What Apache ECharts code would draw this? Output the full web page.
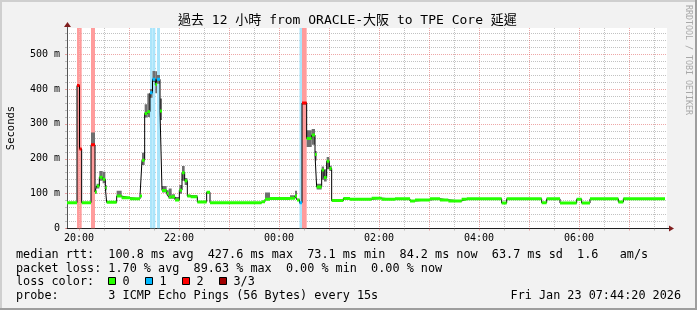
<!DOCTYPE html>
<html><head><meta charset="utf-8">
<script src="https://cdn.jsdelivr.net/npm/echarts@6/dist/echarts.min.js"></script>
<style>html,body{margin:0;padding:0;background:#f2f2f2}#c{width:697px;height:310px}</style>
</head><body><div id="c"></div>
<script>
// ---- data (time = minutes relative to 20:00, values in ms) ----
const segStart = [-14.4,-2.4,0.6,3.2,14.4,19.2,21.2,24.4,28.4,31.6,33.2,45.2,51.2,61.2,73.2,75.6,78.8,82,85.2,88.2,91.6,93.6,97.2,99.6,105.2,107.6,111.2,115.2,120.4,123.6,126.8,130,134,142,153.2,157.2,219.2,223.2,229.2,253.2,259.2,261.6,264.6,267.6,273.2,279.2,283.2,285.2,291.2,294,297.2,300.4,303.2,317.2,325.2,351.2,363.2,379.2,397.2,403.2,421.2,433.2,443.2,459.2,465.2,507.2,513.2,555.2,561.2,577.2,597.2,603.2,613.2,647.2,653.2];
const lastSampleEnd = 703.2;
const medianMs = [74,410,228,74,240,105,122,147,141,117,75,93,88,85,93,196,330,335,389,428,413,428,337,109,101,90,91,82,110,160,137,93,91,76,104,74,77,84,86,87,93,82,74,360,258,268,212,119,168,146,193,172,80,86,84,87,84,85,79,82,85,82,79,84,85,73,85,74,85,73,84,73,85,76,85];
const smokeLo = [73,406,225,73,237,100,115,137,130,110,74,90,86,84,90,182,318,320,375,420,388,415,311,103,95,85,85,80,100,137,125,90,89,75,100,73,76,82,85,85,88,80,72,355,234,240,195,112,140,135,170,165,79,85,83,86,83,84,78,81,84,81,78,83,84,72,84,73,84,72,83,72,84,75,84];
const smokeHi = [75,412,230,75,275,110,128,165,163,125,77,108,90,86,95,217,356,387,400,452,451,440,373,122,110,115,98,90,125,179,145,97,96,78,106,75,78,103,88,95,108,85,76,362,282,285,222,128,178,170,205,180,81,87,85,88,85,86,80,84,86,83,80,85,86,74,86,75,86,74,85,74,86,77,86];
const lossCount = [0,2,2,0,2,0,0,0,0,0,0,0,0,0,0,0,0,0,1,1,0,1,0,0,0,0,0,0,0,0,0,0,0,0,0,0,0,0,0,0,0,0,1,2,0,0,0,0,0,0,0,0,0,0,0,0,0,0,0,0,0,0,0,0,0,0,0,0,0,0,0,0,0,0,0];
const xLabelMinutes = [0,120,240,360,480,600];
const xTickLabels = ['20:00','22:00','00:00','02:00','04:00','06:00'];
const yTickValues = [0,100,200,300,400,500];
const yTickLabels = ['0','100 m','200 m','300 m','400 m','500 m'];
const lossLegendLabels = ['0','1','2','3/3'];
const titleText = '過去 12 小時 from ORACLE-大阪 to TPE Core 延遲';
const statLines = [
  'median rtt:  100.8 ms avg  427.6 ms max  73.1 ms min  84.2 ms now  63.7 ms sd  1.6   am/s',
  'packet loss: 1.70 % avg  89.63 % max  0.00 % min  0.00 % now',
  'loss color:',
  'probe:       3 ICMP Echo Pings (56 Bytes) every 15s'
];
const dateText = 'Fri Jan 23 07:44:20 2026';

// ---- styles ----
const X_MIN = -14.4, X_MAX = 705.6, Y_MAX = 575;
const lossColors = ['#26ff00','#00b8ff','#ff0000','#a00000'];
const bandColors = [null,'#abe5fb','#ff9c9c','#ff9c9c'];
const smokeColor = '#6f6f6f';
const minorGrid = 'rgba(143,143,143,0.55)';
const majorGrid = 'rgba(222,79,79,0.5)';
const mono = '"DejaVu Sans Mono", "Noto Sans CJK TC", monospace';

const hourTicks = [], halfTicks = [], yMinor = [];
for (let m = 0; m <= 660; m += 60) hourTicks.push(m);
for (let m = 30; m <= 690; m += 60) halfTicks.push(m);
for (let v = 20; v < Y_MAX; v += 20) if (v % 100) yMinor.push(v);

const items = segStart.map((t, i) => [t, i < segStart.length - 1 ? segStart[i + 1] : lastSampleEnd, medianMs[i], smokeLo[i], smokeHi[i], lossCount[i]]);
const stepLine = segStart.map((t, i) => [t, medianMs[i]]).concat([[lastSampleEnd, medianMs[medianMs.length - 1]]]);

function renderBand(params, api) {
  const loss = api.value(5);
  if (!loss) return null;
  const a = api.coord([api.value(0), Y_MAX]);
  const b = api.coord([api.value(1), 0]);
  return {type: 'rect', shape: {x: a[0], y: a[1], width: b[0] - a[0], height: b[1] - a[1]}, style: {fill: bandColors[loss]}};
}
function renderSmoke(params, api) {
  const a = api.coord([api.value(0), api.value(4)]);
  const b = api.coord([api.value(1), api.value(3)]);
  return {type: 'rect', shape: {x: a[0], y: a[1], width: b[0] - a[0], height: b[1] - a[1]}, style: {fill: smokeColor}};
}
function renderMedian(params, api) {
  const a = api.coord([api.value(0), api.value(2)]);
  const b = api.coord([api.value(1), api.value(2)]);
  return {type: 'line', shape: {x1: a[0], y1: a[1], x2: b[0], y2: b[1]}, style: {stroke: lossColors[api.value(5)], lineWidth: 3, lineCap: 'butt'}};
}

const graphics = [
  {type: 'rect', shape: {x: 0, y: 0, width: 697, height: 2}, style: {fill: '#cfcfcf'}},
  {type: 'rect', shape: {x: 0, y: 0, width: 2, height: 310}, style: {fill: '#cfcfcf'}},
  {type: 'rect', shape: {x: 0, y: 308, width: 697, height: 2}, style: {fill: '#9e9e9e'}},
  {type: 'rect', shape: {x: 695, y: 0, width: 2, height: 310}, style: {fill: '#9e9e9e'}},
  {type: 'text', x: 178, y: 21, style: {text: titleText, font: '13px ' + mono, fill: '#000', textVerticalAlign: 'middle'}},
  {type: 'text', x: 11, y: 128, rotation: Math.PI / 2, style: {text: 'Seconds', font: '10.5px ' + mono, fill: '#000', textAlign: 'center', textVerticalAlign: 'middle'}},
  {type: 'text', x: 688.5, y: 5, rotation: -Math.PI / 2, style: {text: 'RRDTOOL / TOBI OETIKER', font: '8.3px ' + mono, fill: '#a8a8a8', textAlign: 'left', textVerticalAlign: 'middle'}},
  {type: 'line', shape: {x1: 67.5, y1: 28, x2: 67.5, y2: 24}, style: {stroke: '#555', lineWidth: 1}},
  {type: 'polygon', shape: {points: [[64, 27], [71, 27], [67.5, 22]]}, style: {fill: '#801f1f'}},
  {type: 'line', shape: {x1: 667, y1: 228.5, x2: 670, y2: 228.5}, style: {stroke: '#1f1f1f', lineWidth: 1}},
  {type: 'polygon', shape: {points: [[669, 225.5], [669, 231.5], [674, 228.5]]}, style: {fill: '#801f1f'}}
];
const lineY = [254.5, 268.5, 282, 296];
statLines.forEach((s, i) => graphics.push({type: 'text', x: 16, y: lineY[i], style: {text: s, font: '11.8px ' + mono, fill: '#000', textVerticalAlign: 'middle'}}));
graphics.push({type: 'text', x: 681, y: lineY[3], style: {text: dateText, font: '11.8px ' + mono, fill: '#000', textAlign: 'right', textVerticalAlign: 'middle'}});
lossLegendLabels.forEach((lab, i) => {
  graphics.push({type: 'rect', shape: {x: 108.5 + 37 * i, y: 277.5, width: 7, height: 7}, style: {fill: lossColors[i], stroke: '#000', lineWidth: 1}});
  graphics.push({type: 'text', x: 122.5 + 37 * i, y: lineY[2], style: {text: lab, font: '11.8px ' + mono, fill: '#000', textVerticalAlign: 'middle'}});
});

const chart = echarts.init(document.getElementById('c'), null, {renderer: 'canvas', width: 697, height: 310});
chart.setOption({
  animation: false,
  backgroundColor: '#f2f2f2',
  grid: {left: 67, top: 28, width: 600, height: 200.5, backgroundColor: '#fff', show: true, borderWidth: 0},
  xAxis: [
    {type: 'value', min: X_MIN, max: X_MAX, position: 'bottom',
     axisLine: {onZero: false, lineStyle: {color: '#1f1f1f', width: 1}},
     axisTick: {show: true, customValues: hourTicks, length: 2, lineStyle: {color: majorGrid}},
     axisLabel: {customValues: xLabelMinutes, formatter: v => xTickLabels[xLabelMinutes.indexOf(v)], fontFamily: mono, fontSize: 10, color: '#000', margin: 5},
     splitLine: {show: true, lineStyle: {color: majorGrid, type: [1, 1], width: 1}}},
    {type: 'value', min: X_MIN, max: X_MAX, position: 'bottom',
     axisLine: {show: false, onZero: false},
     axisTick: {show: true, customValues: halfTicks, length: 2, lineStyle: {color: minorGrid}},
     axisLabel: {show: false},
     splitLine: {show: true, lineStyle: {color: minorGrid, type: [1, 1], width: 1}}}
  ],
  yAxis: [
    {type: 'value', min: 0, max: Y_MAX, position: 'left',
     axisLine: {show: true, onZero: false, lineStyle: {color: '#555', width: 1}},
     axisTick: {show: true, customValues: yTickValues, length: 2, lineStyle: {color: majorGrid}},
     axisLabel: {customValues: yTickValues, formatter: v => yTickLabels[yTickValues.indexOf(v)], fontFamily: mono, fontSize: 10, color: '#000', margin: 7},
     splitLine: {show: true, lineStyle: {color: majorGrid, type: [1, 1], width: 1}}},
    {type: 'value', min: 0, max: Y_MAX, position: 'left',
     axisLine: {show: false, onZero: false},
     axisTick: {show: true, customValues: yMinor, length: 2, lineStyle: {color: minorGrid}},
     axisLabel: {show: false},
     splitLine: {show: true, lineStyle: {color: minorGrid, type: [1, 1], width: 1}}}
  ],
  series: [
    {type: 'custom', renderItem: renderBand, data: items, encode: {x: [0, 1], y: 2}, clip: true, z: 1, silent: true},
    {type: 'custom', renderItem: renderSmoke, data: items, encode: {x: [0, 1], y: [3, 4]}, clip: true, z: 2, silent: true},
    {type: 'line', data: stepLine, step: 'end', symbol: 'none', lineStyle: {color: '#000', width: 1}, z: 3, silent: true},
    {type: 'custom', renderItem: renderMedian, data: items, encode: {x: [0, 1], y: 2}, clip: true, z: 4, silent: true}
  ],
  graphic: graphics
});
</script></body></html>
